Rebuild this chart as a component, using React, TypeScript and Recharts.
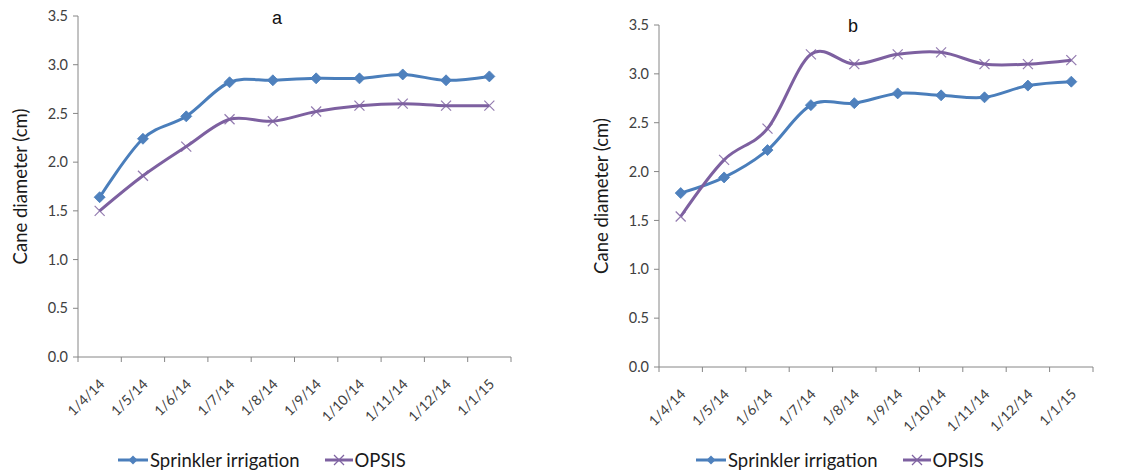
import React from 'react';
import { LineChart, Line, XAxis, YAxis, Legend } from 'recharts';

// Sampling dates (one measurement per month)
const dates = ['1/4/14', '1/5/14', '1/6/14', '1/7/14', '1/8/14', '1/9/14', '1/10/14', '1/11/14', '1/12/14', '1/1/15'];

// Panel a: cane diameter (cm)
const sprinklerA = [1.64, 2.24, 2.47, 2.82, 2.84, 2.86, 2.86, 2.9, 2.84, 2.88];
const opsisA = [1.5, 1.86, 2.16, 2.44, 2.42, 2.52, 2.58, 2.6, 2.58, 2.58];

// Panel b: cane diameter (cm)
const sprinklerB = [1.78, 1.94, 2.22, 2.68, 2.7, 2.8, 2.78, 2.76, 2.88, 2.92];
const opsisB = [1.54, 2.12, 2.44, 3.2, 3.1, 3.2, 3.22, 3.1, 3.1, 3.14];

const yTicks = [0, 0.5, 1, 1.5, 2, 2.5, 3, 3.5];
// Tick marks sit on the category boundaries; labels go in between
const boundaryTicks = [0, 1, 2, 3, 4, 5, 6, 7, 8, 9, 10];

const FONT = 'Lato, "Open Sans", "Noto Sans", sans-serif';
const TITLE_FONT = '"Liberation Sans", Arial, sans-serif';
const AXIS_GREY = '#868686';
const TEXT = '#404040';
const BLUE_LINE = '#4A7EBB';
const BLUE_MARK = '#4F81BD';
const PURPLE_LINE = '#7D60A0';
const PURPLE_MARK = '#8064A2';

const Y_AXIS_W = 10;
const X_AXIS_H = 60;

// Smoothed line: cardinal spline with tension 0 (Catmull-Rom style)
class SmoothCurve {
  _context: any;
  _k = 1 / 6;
  _line = NaN;
  _point = 0;
  _x0 = NaN; _x1 = NaN; _x2 = NaN;
  _y0 = NaN; _y1 = NaN; _y2 = NaN;
  constructor(context: any) {
    this._context = context;
  }
  _bezier(x: number, y: number) {
    this._context.bezierCurveTo(
      this._x1 + this._k * (this._x2 - this._x0),
      this._y1 + this._k * (this._y2 - this._y0),
      this._x2 + this._k * (this._x1 - x),
      this._y2 + this._k * (this._y1 - y),
      this._x2,
      this._y2
    );
  }
  areaStart() { this._line = 0; }
  areaEnd() { this._line = NaN; }
  lineStart() {
    this._x0 = this._x1 = this._x2 = NaN;
    this._y0 = this._y1 = this._y2 = NaN;
    this._point = 0;
  }
  lineEnd() {
    switch (this._point) {
      case 2: this._context.lineTo(this._x2, this._y2); break;
      case 3: this._bezier(this._x1, this._y1); break;
    }
    if (this._line || (this._line !== 0 && this._point === 1)) this._context.closePath();
    this._line = 1 - this._line;
  }
  point(x: number, y: number) {
    x = +x; y = +y;
    switch (this._point) {
      case 0:
        this._point = 1;
        if (this._line) this._context.lineTo(x, y); else this._context.moveTo(x, y);
        break;
      case 1:
        this._point = 2;
        this._x1 = x; this._y1 = y;
        break;
      case 2:
        this._point = 3;
        this._bezier(x, y);
        break;
      default:
        this._bezier(x, y);
        break;
    }
    this._x0 = this._x1; this._x1 = this._x2; this._x2 = x;
    this._y0 = this._y1; this._y1 = this._y2; this._y2 = y;
  }
}
const smooth = (context: any) => new SmoothCurve(context);

const diamondPath = (cx: number, cy: number, r: number) =>
  `M${cx},${cy - r}L${cx + r},${cy}L${cx},${cy + r}L${cx - r},${cy}Z`;

const DiamondDot = (props: any) => {
  const { cx, cy } = props;
  if (cx == null || cy == null) return null;
  return <path d={diamondPath(cx, cy, 5.5)} fill={BLUE_MARK} stroke={BLUE_LINE} strokeWidth={0.8} />;
};

const CrossDot = (props: any) => {
  const { cx, cy } = props;
  if (cx == null || cy == null) return null;
  const r = 5;
  return (
    <g stroke={PURPLE_MARK} strokeWidth={1.2} opacity={0.85}>
      <line x1={cx - r} y1={cy - r} x2={cx + r} y2={cy + r} />
      <line x1={cx - r} y1={cy + r} x2={cx + r} y2={cy - r} />
    </g>
  );
};

// Rotated date label, drawn half a category to the right of its boundary tick
const DateTick = (props: any) => {
  const { x, y, payload, band } = props;
  const label = dates[payload.value];
  if (label == null) return <g />;
  const ax = x + band / 2 + 2;
  const ay = y + 17;
  return (
    <text
      x={ax}
      y={ay}
      transform={`rotate(-45 ${ax} ${ay})`}
      textAnchor="end"
      dominantBaseline="central"
      fill={TEXT}
      fontSize={14}
      fontFamily={FONT}
    >
      {label}
    </text>
  );
};

const YTitle = (props: any) => {
  const { viewBox, offset } = props;
  const cx = viewBox.x + viewBox.width - offset;
  const cy = viewBox.y + viewBox.height / 2;
  return (
    <text
      x={cx}
      y={cy}
      transform={`rotate(-90 ${cx} ${cy})`}
      textAnchor="middle"
      dominantBaseline="central"
      fill="#1a1a1a"
      fontSize={18.5}
      fontFamily={FONT}
    >
      Cane diameter (cm)
    </text>
  );
};

const LegendBody = () => (
  <div
    style={{
      display: 'flex',
      alignItems: 'center',
      fontFamily: FONT,
      fontSize: 18.5,
      color: '#1a1a1a',
      whiteSpace: 'nowrap',
      lineHeight: '22px',
    }}
  >
    <svg width={32} height={14}>
      <line x1={1} y1={7} x2={31} y2={7} stroke={BLUE_LINE} strokeWidth={3} />
      <path d={diamondPath(16, 7, 4.5)} fill={BLUE_MARK} />
    </svg>
    <span style={{ marginLeft: 1 }}>Sprinkler irrigation</span>
    <span style={{ display: 'inline-block', width: 24 }} />
    <svg width={30} height={14}>
      <line x1={1} y1={7} x2={29} y2={7} stroke={PURPLE_LINE} strokeWidth={3} />
      <g stroke={PURPLE_MARK} strokeWidth={1.2}>
        <line x1={10} y1={2} x2={20} y2={12} />
        <line x1={10} y1={12} x2={20} y2={2} />
      </g>
    </svg>
    <span style={{ marginLeft: 1 }}>OPSIS</span>
  </div>
);

type PanelProps = {
  title: string;
  sprinkler: number[];
  opsis: number[];
  left: number;
  plot: { left: number; top: number; right: number; bottom: number };
  titleX: number;
  titleY: number;
  legendLeft: number;
  legendTop: number;
};

const Panel = ({ title, sprinkler, opsis, left, plot, titleX, titleY, legendLeft, legendTop }: PanelProps) => {
  const data = dates.map((d, i) => ({ x: i + 0.5, date: d, sprinkler: sprinkler[i], opsis: opsis[i] }));
  const margin = {
    top: plot.top,
    right: 571 - plot.right,
    bottom: 472 - plot.bottom - X_AXIS_H,
    left: plot.left - Y_AXIS_W,
  };
  const band = (plot.right - plot.left) / dates.length;
  return (
    <div style={{ position: 'absolute', left, top: 0, width: 571, height: 472 }}>
      <LineChart width={571} height={472} data={data} margin={margin}>
        <XAxis
          dataKey="x"
          type="number"
          domain={[0, dates.length]}
          ticks={boundaryTicks}
          height={X_AXIS_H}
          stroke={AXIS_GREY}
          tickSize={5}
          tick={<DateTick band={band} />}
        />
        <YAxis
          type="number"
          domain={[0, 3.5]}
          ticks={yTicks}
          width={Y_AXIS_W}
          stroke={AXIS_GREY}
          tickSize={5}
          tickMargin={5}
          tickFormatter={(v: number) => v.toFixed(1)}
          tick={{ fill: TEXT, fontSize: 14.5, fontFamily: FONT }}
          label={{ content: <YTitle />, offset: 58 }}
        />
        <Line
          dataKey="sprinkler"
          type={smooth as any}
          stroke={BLUE_LINE}
          strokeWidth={3}
          dot={DiamondDot}
          activeDot={false}
          isAnimationActive={false}
        />
        <Line
          dataKey="opsis"
          type={smooth as any}
          stroke={PURPLE_LINE}
          strokeWidth={3}
          dot={CrossDot}
          activeDot={false}
          isAnimationActive={false}
        />
        <Legend
          layout="horizontal"
          verticalAlign="middle"
          align="center"
          content={<LegendBody />}
          wrapperStyle={{ left: legendLeft, top: legendTop, width: 340 }}
        />
      </LineChart>
      <div
        style={{
          position: 'absolute',
          left: titleX - 20,
          top: titleY,
          width: 40,
          textAlign: 'center',
          fontFamily: TITLE_FONT,
          fontSize: 18,
          color: '#111',
          lineHeight: '20px',
        }}
      >
        {title}
      </div>
    </div>
  );
};

export default function App() {
  return (
    <div style={{ position: 'absolute', left: 0, top: 0, width: 1142, height: 472, background: '#fff', overflow: 'hidden' }}>
      <Panel
        title="a"
        sprinkler={sprinklerA}
        opsis={opsisA}
        left={0}
        plot={{ left: 78, top: 16, right: 511, bottom: 357 }}
        titleX={277}
        titleY={8}
        legendLeft={117}
        legendTop={449}
      />
      <Panel
        title="b"
        sprinkler={sprinklerB}
        opsis={opsisB}
        left={571}
        plot={{ left: 88, top: 25, right: 522, bottom: 367 }}
        titleX={282}
        titleY={16}
        legendLeft={124}
        legendTop={449}
      />
    </div>
  );
}
